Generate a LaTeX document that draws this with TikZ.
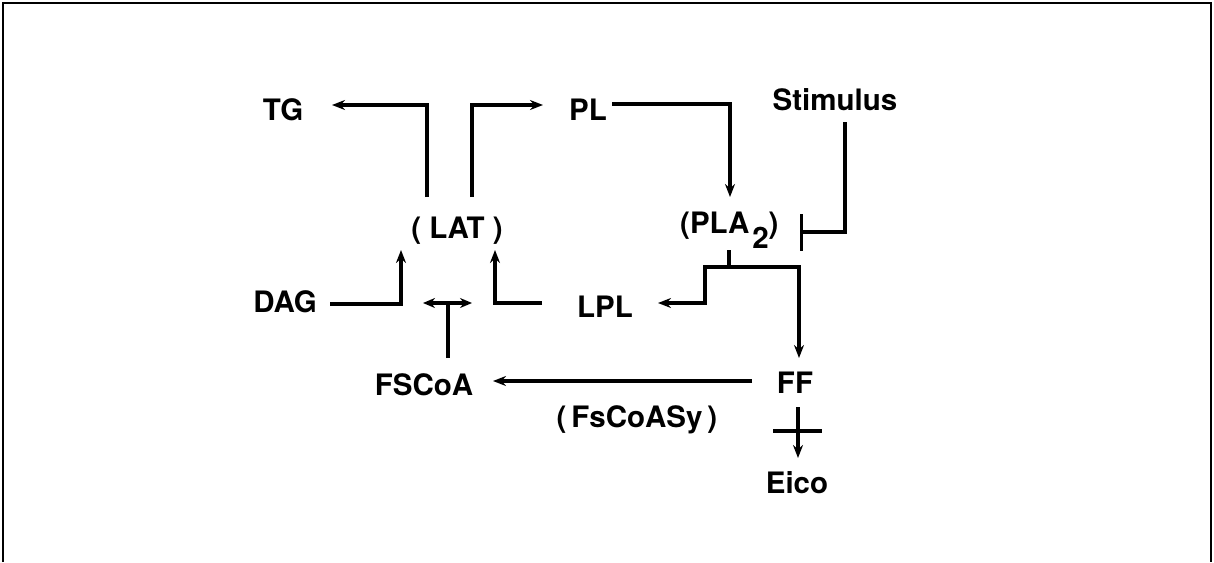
\documentclass[tikz,border=0pt]{standalone}
\usepackage{fontspec}
\setmainfont{TeX Gyre Heros}
\usetikzlibrary{arrows.meta,calc}
\begin{document}
\begin{tikzpicture}[x=1pt,y=-1pt,
  lbl/.style={font=\fontsize{29.5}{32}\selectfont\bfseries, inner sep=0pt, anchor=base},
  ln/.style={line width=3.4pt},
  arr/.style={ln,-{Stealth[length=13pt,width=10pt]}},
  dbl/.style={ln,{Stealth[length=12pt,width=10pt]}-{Stealth[length=12pt,width=10pt]}},
  inh/.style={ln,-{Bar[width=37pt]}}
]
\useasboundingbox (0,0) rectangle (1214,562);
\draw[line width=1.6pt] (3,562) -- (3,3) -- (1211,3) -- (1211,562);

\node[lbl] (TG) at (283,120) {TG};
\node[lbl] (PL) at (588,120) {PL};
\node[lbl] (Stim) at (835,110) {Stimulus};
\node[lbl] (LAT) at (457,238) {( LAT )};
\node[lbl,anchor=base west] (PLA) at (680,233) {(PLA\kern3pt\raisebox{-15pt}{2})};
\node[lbl] (DAG) at (285,312) {DAG};
\node[lbl] (LPL) at (605,317) {LPL};
\node[lbl] (FSCoA) at (424,395) {FSCoA};
\node[lbl] (FF) at (795,393) {FF};
\node[lbl] (Sy) at (637,427) {(\,FsCoASy\,)};
\node[lbl] (Eico) at (797,493) {Eico};

\draw[arr] ($(LAT.base)+(-30,-41)$) |- ($(TG.base)+(49,-15)$);
\draw[arr] ($(LAT.base)+(15,-41)$) |- ($(PL.base)+(-45,-15)$);
\draw[arr] ($(PL.base)+(24,-16)$) -| ($(PLA.base west)+(50,-36)$);
\draw[inh] ($(Stim.base)+(10,12)$) |- ($(PLA.base west)+(120,-1)$);
\coordinate (jn) at ($(PLA.base west)+(49,34)$);
\draw[ln] ($(PLA.base west)+(49,17)$) -- (jn);
\draw[arr] (jn) -- ++(-24,0) |- ($(LPL.base)+(53,-14)$);
\draw[arr] (jn) -| ($(FF.base)+(4,-35)$);
\draw[arr] ($(LPL.base)+(-63,-14)$) -| ($(LAT.base)+(38,12)$);
\draw[arr] ($(DAG.base)+(45,-8)$) -| ($(LAT.base)+(-56,12)$);
\coordinate (dj) at ($(FSCoA.base)+(24,-92)$);
\draw[ln] ($(FSCoA.base)+(24,-37)$) -- (dj);
\draw[dbl] ($(dj)+(-25,0)$) -- ($(dj)+(24,0)$);
\draw[arr] ($(FF.base)+(-43,-12)$) -- ($(FSCoA.base)+(69,-14)$);
\draw[arr] ($(FF.base)+(3,14)$) -- ($(Eico.base)+(1,-35)$);
\draw[ln] ($(FF.base)+(-22,38)$) -- ++(49,0);
\end{tikzpicture}
\end{document}
